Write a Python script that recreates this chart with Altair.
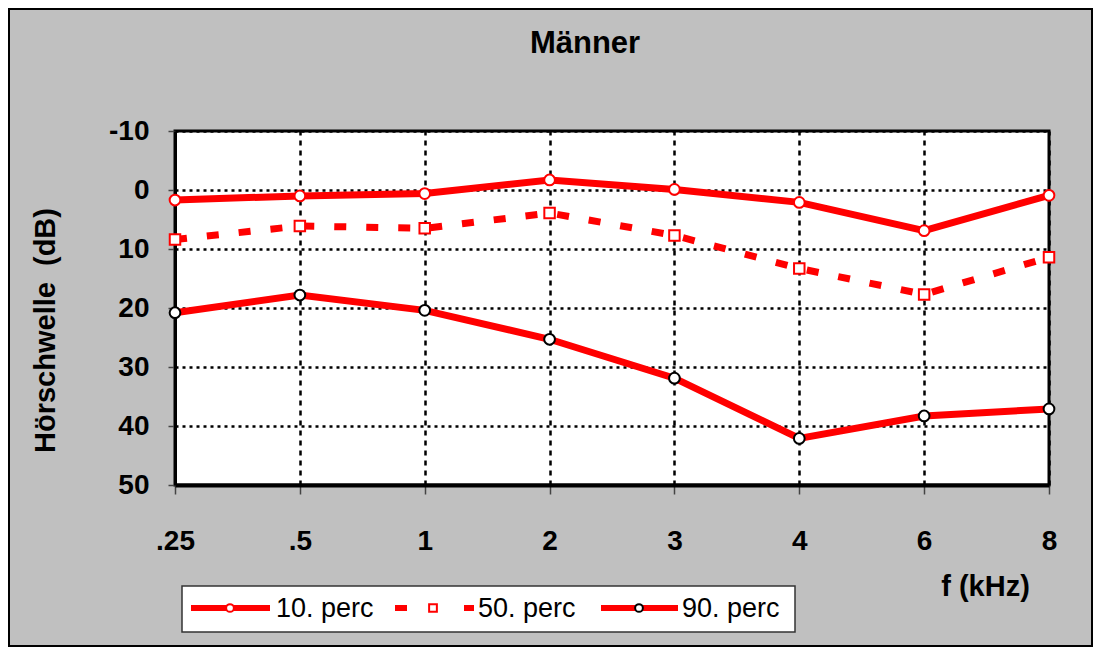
import altair as alt
import pandas as pd

# ---- data -------------------------------------------------------------
freq = [".25", ".5", "1", "2", "3", "4", "6", "8"]
p10 = [1.7, 1.0, 0.6, -1.7, -0.1, 2.1, 6.9, 0.9]
p50 = [8.4, 6.1, 6.5, 3.9, 7.7, 13.3, 17.7, 11.4]
p90 = [20.8, 17.8, 20.4, 25.3, 31.9, 42.1, 38.3, 37.1]
series_names = ["10. perc", "50. perc", "90. perc"]
y_ticks = [-10, 0, 10, 20, 30, 40, 50]
title_text = "Männer"
y_title = "Hörschwelle\u00a0 (dB)"
x_title = "f (kHz)"

RED = "#ff0000"
GRAY = "#c0c0c0"
FONT = "Liberation Sans"

df10 = pd.DataFrame({"freq": freq, "val": p10})
df50 = pd.DataFrame({"freq": freq, "val": p50})
df90 = pd.DataFrame({"freq": freq, "val": p90})

X = alt.X(
    "freq:N",
    sort=freq,
    scale=alt.Scale(type="point", padding=0, domain=freq),
    axis=alt.Axis(
        title=x_title, titleX=810, titleY=101, titleAlign="center",
        titleBaseline="middle", titleFontSize=29, titleFont=FONT,
        titleFontWeight="bold", titleColor="black",
        labelFontSize=28, labelFont=FONT, labelFontWeight="bold",
        labelColor="black", labelPadding=33, labelAngle=0,
        tickSize=9, tickColor="#444", tickWidth=1.5,
        domainColor="black", domainWidth=4,
        grid=True, gridColor="black", gridDash=[5, 5], gridWidth=2.5,
    ),
)
Y = alt.Y(
    "val:Q",
    scale=alt.Scale(domain=[-10, 50], reverse=True, nice=False, zero=False),
    axis=alt.Axis(
        values=y_ticks, labelExpr="'' + datum.value",
        title=y_title, titleX=-130, titleY=199,
        titleAngle=270, titleAlign="center", titleBaseline="middle",
        titleFontSize=29, titleFont=FONT, titleFontWeight="bold",
        titleColor="black",
        labelFontSize=28, labelFont=FONT, labelFontWeight="bold",
        labelColor="black", labelPadding=19,
        tickSize=7, tickColor="#444", tickWidth=1.5,
        domainColor="black", domainWidth=3,
        grid=True, gridColor="black", gridDash=[3, 4], gridWidth=2.5,
    ),
)

line10 = alt.Chart(df10).mark_line(color=RED, strokeWidth=7).encode(x=X, y=Y)
pt10 = alt.Chart(df10).mark_point(shape="circle", size=115, filled=True,
                                  fill="white", stroke=RED, strokeWidth=2,
                                  opacity=1).encode(x=X, y=Y)
line50 = alt.Chart(df50).mark_line(color=RED, strokeWidth=7,
                                   strokeDash=[12, 20]).encode(x=X, y=Y)
pt50 = alt.Chart(df50).mark_point(shape="square", size=110, filled=True,
                                  fill="white", stroke=RED, strokeWidth=2,
                                  opacity=1).encode(x=X, y=Y)
line90 = alt.Chart(df90).mark_line(color=RED, strokeWidth=7).encode(x=X, y=Y)
pt90 = alt.Chart(df90).mark_point(shape="circle", size=115, filled=True,
                                  fill="white", stroke="black", strokeWidth=2,
                                  opacity=1).encode(x=X, y=Y)

# ---- title ------------------------------------------------------------
title = alt.Chart(pd.DataFrame({"t": [title_text]})).mark_text(
    font=FONT, fontSize=31, fontWeight="bold", color="black",
    align="center", baseline="middle",
).encode(x=alt.value(410), y=alt.value(-87), text="t:N")

# ---- outer frame ------------------------------------------------------
frame = alt.Chart(pd.DataFrame({"a": [0]})).mark_rect(
    fill=None, stroke="black", strokeWidth=2,
).encode(x=alt.value(-166), x2=alt.value(917), y=alt.value(-122), y2=alt.value(515))

# ---- manual legend ----------------------------------------------------
one = pd.DataFrame({"a": [0]})
leg_box = alt.Chart(one).mark_rect(fill="white", stroke="#333", strokeWidth=1.5).encode(
    x=alt.value(7), x2=alt.value(620), y=alt.value(455), y2=alt.value(501))

def leg_text(name, x):
    return alt.Chart(pd.DataFrame({"t": [name]})).mark_text(
        font=FONT, fontSize=27, color="black", align="left", baseline="middle"
    ).encode(x=alt.value(x), y=alt.value(478), text="t:N")

def leg_rule(x1, x2):
    return alt.Chart(one).mark_rule(color=RED, strokeWidth=6).encode(
        x=alt.value(x1), x2=alt.value(x2), y=alt.value(477))

def leg_pt(x, shape, stroke):
    return alt.Chart(one).mark_point(shape=shape, size=60, filled=True, fill="white",
                                     stroke=stroke, strokeWidth=2, opacity=1).encode(
        x=alt.value(x), y=alt.value(477))

legend = [
    leg_box,
    leg_rule(16, 95), leg_pt(55, "circle", RED), leg_text(series_names[0], 101),
    leg_rule(220, 232), leg_rule(289, 299), leg_pt(258, "square", RED),
    leg_text(series_names[1], 303),
    leg_rule(426, 503), leg_pt(464, "circle", "black"), leg_text(series_names[2], 507),
]

chart = alt.layer(
    frame, line10, line50, line90, pt10, pt50, pt90, title, *legend
).properties(
    width=874, height=354,
    padding={"left": 167, "top": 123, "right": 44, "bottom": 162},
    autosize=alt.AutoSizeParams(type="none"),
    background=GRAY,
).configure_view(fill="white", stroke="black", strokeWidth=3)

chart.save("out.html", embed_options={"renderer": "svg", "actions": False})
